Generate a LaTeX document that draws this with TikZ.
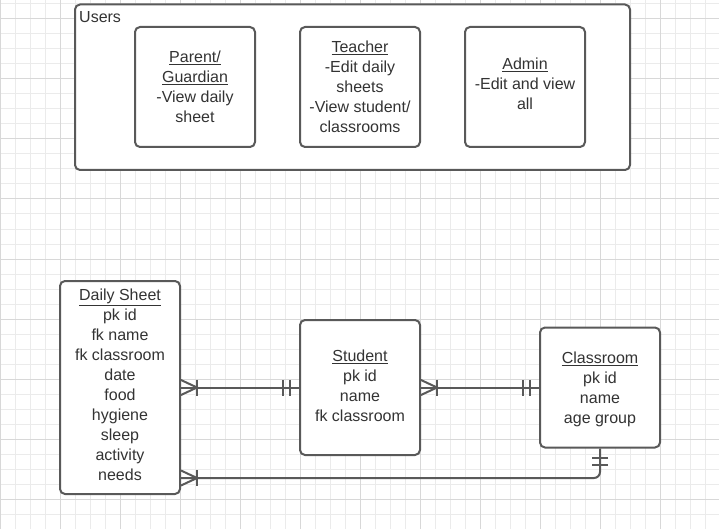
\documentclass[tikz,border=0pt]{standalone}
\usepackage{fontspec}
\setmainfont{Liberation Sans}
\usetikzlibrary{calc}
\definecolor{bord}{HTML}{595959}
\definecolor{txt}{HTML}{333333}
\definecolor{gminor}{HTML}{EBEBEB}
\definecolor{gmajor}{HTML}{D8D8D8}
\tikzset{
  minorgrid/.style={draw=gminor, line width=1pt},
  majorgrid/.style={draw=gmajor, line width=1pt},
  box/.style={draw=bord, line width=2pt, rounded corners=5pt, fill=white,
    minimum width=120pt, minimum height=120pt, align=center, text=txt,
    font=\fontsize{16}{20}\selectfont, inner sep=0pt},
  conn/.style={draw=bord, line width=2pt},
  oneormany/.pic={\draw[conn] (0,-7.5) -- (16,0) -- (0,7.5); \draw[conn] (16,-8) -- (16,8);},
  onlyone/.pic={\draw[conn] (9,-8) -- (9,8); \draw[conn] (16,-8) -- (16,8);}
}
\begin{document}
\begin{tikzpicture}[x=1pt,y=-1pt]
\useasboundingbox (0,0) rectangle (719,529);
\fill[white] (0,0) rectangle (719,529);
% grid
\foreach \x in {0,15,...,719} \draw[minorgrid] (\x,0) -- (\x,529);
\foreach \y in {4,19,...,529} \draw[minorgrid] (0,\y) -- (719,\y);
\foreach \x in {0,60,...,719} \draw[majorgrid] (\x,0) -- (\x,529);
\foreach \y in {19,79,...,529} \draw[majorgrid] (0,\y) -- (719,\y);
% users container
\node[box, minimum width=555pt, minimum height=165.5pt] (users) at (352.5,87.25) {};
\node[anchor=north west, text=txt, font=\fontsize{16}{20}\selectfont, inner sep=0pt] (userslbl) at (79,11.5) {Users};
\node[box] (parent) at (195,87) {\underline{Parent/}\\\underline{Guardian}\\-View daily\\sheet};
\node[box] (teacher) at (360,87) {\underline{Teacher}\\-Edit daily\\sheets\\-View student/\\classrooms};
\node[box] (admin) at (525,87) {\underline{Admin}\\-Edit and view\\all\rule[-6pt]{0pt}{6pt}};
% entities
\node[box, minimum height=213pt] (ds) at (120,387.5) {\underline{Daily Sheet}\\pk id\\fk name\\fk classroom\\date\\food\\hygiene\\sleep\\activity\\needs\rule[-6pt]{0pt}{6pt}};
\node[box, minimum height=135pt] (st) at (360,387.5) {\underline{Student}\\pk id\\name\\fk classroom\rule[-4pt]{0pt}{4pt}};
\node[box] (cl) at (600,387.5) {\rule{0pt}{15pt}\underline{Classroom}\\pk id\\name\\age group};
% connectors
\draw[conn] (ds.east) -- (st.west);
\pic at (ds.east) {oneormany};
\pic[rotate=180] at (st.west) {onlyone};
\draw[conn] (st.east) -- (cl.west);
\pic at (st.east) {oneormany};
\pic[rotate=180] at (cl.west) {onlyone};
\coordinate (dsb) at ($(ds.south east)+(0,-17)$);
\draw[conn, rounded corners=6pt] (dsb) -| (cl.south);
\pic at (dsb) {oneormany};
\pic[rotate=-90] at (cl.south) {onlyone};
\end{tikzpicture}
\end{document}
